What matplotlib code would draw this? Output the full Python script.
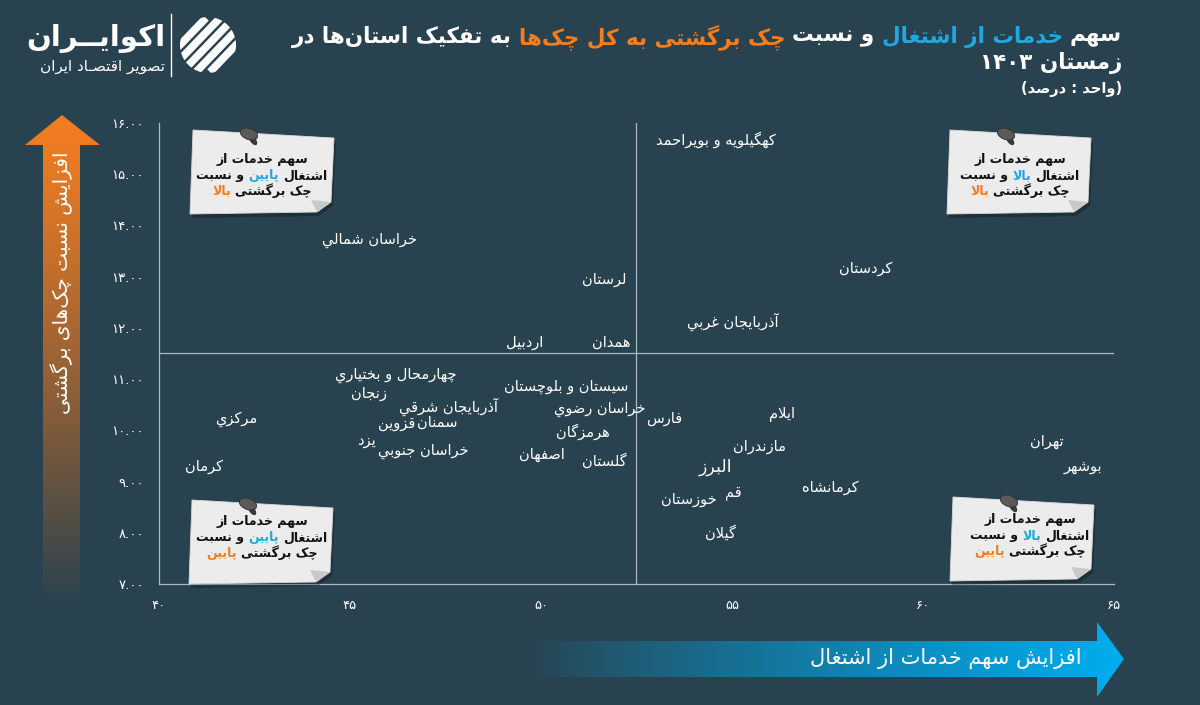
import numpy as np
import matplotlib
matplotlib.use('Agg')
import matplotlib.pyplot as plt
from matplotlib.patches import Polygon, Ellipse, Circle
from matplotlib.colors import to_rgb

# ---------------- data ----------------
provinces = ['خراسان شمالي', 'لرستان', 'اردبیل', 'همدان', 'کهگیلویه و بویراحمد',
             'کردستان', 'آذربایجان غربي', 'چهارمحال و بختیاري', 'زنجان',
             'آذربایجان شرقي', 'سمنان', 'قزوین', 'یزد', 'خراسان جنوبي',
             'سیستان و بلوچستان', 'خراسان رضوي', 'هرمزگان', 'اصفهان', 'گلستان',
             'مرکزي', 'کرمان', 'فارس', 'ایلام', 'مازندران', 'البرز', 'قم',
             'خوزستان', 'کرمانشاه', 'گیلان', 'تهران', 'بوشهر']
service_share = [45.52, 51.65, 49.58, 51.83, 54.58, 58.51, 55.03, 46.20, 45.50,
                 47.59, 47.28, 46.23, 45.42, 46.91, 50.65, 51.54, 51.10, 50.03,
                 51.65, 42.02, 41.18, 53.22, 56.31, 55.71, 54.58, 55.03, 53.87,
                 57.57, 54.69, 63.25, 64.19]
bounced_ratio = [13.70, 12.94, 11.71, 11.71, 15.67, 13.15, 12.12, 11.08, 10.71,
                 10.46, 10.16, 10.13, 9.81, 9.58, 10.85, 10.40, 9.97, 9.52,
                 9.40, 10.22, 9.30, 10.24, 10.30, 9.68, 9.29, 8.78, 8.64,
                 8.88, 8.00, 9.79, 9.30]
x_ticks = [40, 45, 50, 55, 60, 65]
y_ticks = [7, 8, 9, 10, 11, 12, 13, 14, 15, 16]
x_split = 52.5
y_split = 11.5

title_segments = [('سهم', 'w'), ('خدمات از اشتغال', 'b'), ('و نسبت', 'w'),
                  ('چک برگشتی به کل چک‌ها', 'o'), ('به تفکیک استان‌ها در', 'w')]
title_line2 = 'زمستان ۱۴۰۳'
title_line3 = '(واحد : درصد)'
y_arrow_text = 'افزایش نسبت چک‌های برگشتی'
x_arrow_text = 'افزایش سهم خدمات از اشتغال'
notes_x = ['پایین', 'بالا', 'پایین', 'بالا']
notes_y = ['بالا', 'بالا', 'پایین', 'پایین']

# ---------------- arabic shaping ----------------
_F = {
    'ء': ('\uFE80', None, None, None),
    'آ': ('\uFE81', '\uFE82', None, None),
    'أ': ('\uFE83', '\uFE84', None, None),
    'ؤ': ('\uFE85', '\uFE86', None, None),
    'إ': ('\uFE87', '\uFE88', None, None),
    'ئ': ('\uFE89', '\uFE8A', '\uFE8B', '\uFE8C'),
    'ا': ('\uFE8D', '\uFE8E', None, None),
    'ب': ('\uFE8F', '\uFE90', '\uFE91', '\uFE92'),
    'ة': ('\uFE93', '\uFE94', None, None),
    'ت': ('\uFE95', '\uFE96', '\uFE97', '\uFE98'),
    'ث': ('\uFE99', '\uFE9A', '\uFE9B', '\uFE9C'),
    'ج': ('\uFE9D', '\uFE9E', '\uFE9F', '\uFEA0'),
    'ح': ('\uFEA1', '\uFEA2', '\uFEA3', '\uFEA4'),
    'خ': ('\uFEA5', '\uFEA6', '\uFEA7', '\uFEA8'),
    'د': ('\uFEA9', '\uFEAA', None, None),
    'ذ': ('\uFEAB', '\uFEAC', None, None),
    'ر': ('\uFEAD', '\uFEAE', None, None),
    'ز': ('\uFEAF', '\uFEB0', None, None),
    'س': ('\uFEB1', '\uFEB2', '\uFEB3', '\uFEB4'),
    'ش': ('\uFEB5', '\uFEB6', '\uFEB7', '\uFEB8'),
    'ص': ('\uFEB9', '\uFEBA', '\uFEBB', '\uFEBC'),
    'ض': ('\uFEBD', '\uFEBE', '\uFEBF', '\uFEC0'),
    'ط': ('\uFEC1', '\uFEC2', '\uFEC3', '\uFEC4'),
    'ظ': ('\uFEC5', '\uFEC6', '\uFEC7', '\uFEC8'),
    'ع': ('\uFEC9', '\uFECA', '\uFECB', '\uFECC'),
    'غ': ('\uFECD', '\uFECE', '\uFECF', '\uFED0'),
    'ف': ('\uFED1', '\uFED2', '\uFED3', '\uFED4'),
    'ق': ('\uFED5', '\uFED6', '\uFED7', '\uFED8'),
    'ك': ('\uFED9', '\uFEDA', '\uFEDB', '\uFEDC'),
    'ل': ('\uFEDD', '\uFEDE', '\uFEDF', '\uFEE0'),
    'م': ('\uFEE1', '\uFEE2', '\uFEE3', '\uFEE4'),
    'ن': ('\uFEE5', '\uFEE6', '\uFEE7', '\uFEE8'),
    'ه': ('\uFEE9', '\uFEEA', '\uFEEB', '\uFEEC'),
    'و': ('\uFEED', '\uFEEE', None, None),
    'ى': ('\uFEEF', '\uFEF0', None, None),
    'ي': ('\uFEF1', '\uFEF2', '\uFEF3', '\uFEF4'),
    'پ': ('\uFB56', '\uFB57', '\uFB58', '\uFB59'),
    'چ': ('\uFB7A', '\uFB7B', '\uFB7C', '\uFB7D'),
    'ژ': ('\uFB8A', '\uFB8B', None, None),
    'ک': ('\uFB8E', '\uFB8F', '\uFB90', '\uFB91'),
    'گ': ('\uFB92', '\uFB93', '\uFB94', '\uFB95'),
    'ی': ('\uFBFC', '\uFBFD', '\uFBFE', '\uFBFF'),
    'ـ': ('\u0640', '\u0640', '\u0640', '\u0640'),
}
_LA = {'ا': ('\uFEFB', '\uFEFC'), 'آ': ('\uFEF5', '\uFEF6'),
       'أ': ('\uFEF7', '\uFEF8'), 'إ': ('\uFEF9', '\uFEFA')}
_DIG = set('0123456789۰۱۲۳۴۵۶۷۸۹')


def _shape(s):
    units = []
    i = 0
    while i < len(s):
        c = s[i]
        if c == 'ل' and i + 1 < len(s) and s[i + 1] in _LA:
            units.append(('LA', s[i + 1]))
            i += 2
        else:
            units.append(('C', c))
            i += 1

    def joins_next(u):
        if u[0] == 'LA':
            return False
        f = _F.get(u[1])
        return f is not None and f[2] is not None

    def joinable(u):
        return u[0] == 'LA' or u[1] in _F

    out = []
    for k, u in enumerate(units):
        prev = units[k - 1] if k > 0 else None
        nxt = units[k + 1] if k + 1 < len(units) else None
        jp = prev is not None and joins_next(prev) and joinable(u)
        if u[0] == 'LA':
            out.append(_LA[u[1]][1 if jp else 0])
            continue
        c = u[1]
        if c not in _F:
            if c != '\u200c':
                out.append(c)
            continue
        f = _F[c]
        jn = nxt is not None and joinable(nxt) and f[2] is not None
        if jp and jn:
            g = f[3]
        elif jp:
            g = f[1]
        elif jn:
            g = f[2]
        else:
            g = f[0]
        out.append(g)
    return out


def fa(s):
    g = _shape(s)[::-1]
    res = []
    i = 0
    while i < len(g):
        if g[i] in _DIG:
            j = i
            while j < len(g) and (g[j] in _DIG or (g[j] in '.٫' and j + 1 < len(g) and g[j + 1] in _DIG)):
                j += 1
            res.extend(g[i:j][::-1])
            i = j
        else:
            res.append({'(': ')', ')': '('}.get(g[i], g[i]))
            i += 1
    return ''.join(res)


PD = str.maketrans('0123456789', '۰۱۲۳۴۵۶۷۸۹')

# ---------------- style ----------------
FONT = 'DejaVu Sans'
BG = '#29424f'
LINE = '#a7bac4'
BLUE = '#1fa9e1'
ORANGE = '#f47d20'
COL = {'w': 'white', 'b': BLUE, 'o': ORANGE}

plt.rcParams['font.family'] = [FONT]
fig = plt.figure(figsize=(12, 7.05), dpi=100, facecolor=BG)
W, H = 1200, 705

# data axes
ax = fig.add_axes([159 / W, (H - 584) / H, (1114 - 159) / W, (584 - 123) / H])
ax.set_facecolor('none')
ax.set_xlim(40, 65)
ax.set_ylim(7, 16)
for s in ['top', 'right']:
    ax.spines[s].set_visible(False)
for s in ['left', 'bottom']:
    ax.spines[s].set_color(LINE)
    ax.spines[s].set_linewidth(0.9)
ax.set_xticks(x_ticks)
ax.set_xticklabels([str(v).translate(PD) for v in x_ticks])
ax.set_yticks(y_ticks)
ax.set_yticklabels([f'{v:.2f}'.translate(PD) for v in y_ticks])
ax.tick_params(length=0, colors='white', labelsize=9.5, pad=11)
ax.axvline(x_split, color=LINE, lw=0.9)
ax.axhline(y_split, color=LINE, lw=0.9)

for name, xv, yv in zip(provinces, service_share, bounced_ratio):
    size = 12.5 if name == 'البرز' else 10.5
    ax.text(xv, yv, fa(name), ha='center', va='center', color='white',
            fontsize=size, family=FONT)

# overlay axes in pixel coords
ov = fig.add_axes([0, 0, 1, 1])
ov.set_zorder(5)
ov.set_facecolor('none')
ov.axis('off')
renderer = fig.canvas.get_renderer()


def set_lims():
    ov.set_xlim(0, W)
    ov.set_ylim(H, 0)


set_lims()


def rich_line(x, y, segs, size, weight='bold', align='center', color_map=COL):
    texts, widths = [], []
    for txt, col in segs:
        t = ov.text(0, y, fa(txt), color=color_map.get(col, col), fontsize=size,
                    fontweight=weight, ha='right', va='center', family=FONT)
        widths.append(t.get_window_extent(renderer=renderer).width)
        texts.append(t)
    gap = 0.33 * size * 100 / 72
    total = sum(widths) + gap * (len(segs) - 1)
    if align == 'center':
        xr = x + total / 2
    elif align == 'right':
        xr = x
    else:
        xr = x + total
    for t, w in zip(texts, widths):
        t.set_x(xr)
        xr -= w + gap
    return total


def grad_poly(verts, c0, c1, extent, direction, gamma=1.0):
    poly = Polygon(verts, closed=True, facecolor='none', edgecolor='none')
    ov.add_patch(poly)
    t = np.linspace(0, 1, 256) ** gamma
    a, b = np.array(to_rgb(c0)), np.array(to_rgb(c1))
    cols = a[None, :] * (1 - t)[:, None] + b[None, :] * t[:, None]
    img = cols[:, None, :] if direction == 'v' else cols[None, :, :]
    im = ov.imshow(img, extent=extent, origin='upper', aspect='auto',
                   interpolation='bilinear', zorder=1)
    im.set_clip_path(poly)


# y arrow
grad_poly([(62, 115), (100, 145), (80, 145), (80, 605), (43, 605), (43, 145), (25, 145)],
          ORANGE, BG, (25, 100, 605, 115), 'v', gamma=1.2)
ov.text(62, 283, fa(y_arrow_text), rotation=90, ha='center', va='center',
        color='white', fontsize=14.5, family=FONT, zorder=3)

# x arrow
grad_poly([(530, 641), (1097, 641), (1097, 622), (1124, 659), (1097, 697), (1097, 677), (530, 677)],
          BG, '#00adef', (530, 1124, 697, 622), 'h', gamma=0.8)
ov.text(1082, 658, fa(x_arrow_text), ha='right', va='center',
        color='white', fontsize=15, family=FONT, zorder=3)
set_lims()

# title
rich_line(1122, 37, title_segments, 15.5, align='right')
ov.text(1122, 63, fa(title_line2), ha='right', va='center', color='white',
        fontsize=15.5, fontweight='bold', family=FONT)
ov.text(1122, 89, fa(title_line3), ha='right', va='center', color='white',
        fontsize=10.5, fontweight='bold', family=FONT)

# logo
ov.text(165, 38, fa('اکوایــران'), ha='right', va='center', color='white',
        fontsize=21, fontweight='bold', family=FONT)
ov.text(165, 66, fa('تصویر اقتصـاد ایران'), ha='right', va='center', color='white',
        fontsize=11, family=FONT)
ov.plot([171, 171], [14, 76], color='white', lw=1)
clip = Circle((208, 45), 28, facecolor='none', edgecolor='none')
ov.add_patch(clip)
for k in range(5):
    off = -28 + k * 14
    ln, = ov.plot([182 + off, 234 + off], [72, 18], color='white', lw=5.5,
                  solid_capstyle='butt')
    ln.set_clip_path(clip)

# sticky notes
note_specs = [
    ((193, 130), 262, 160),
    ((950, 130), 1020, 160),
    ((192, 500), 262, 522),
    ((953, 497), 1030, 520),
]
for (nx, ny), cx, ly, xw, yw in [(s[0], s[1], s[2], a, b) for s, a, b in zip(note_specs, notes_x, notes_y)]:
    pts = [(nx, ny), (nx + 141, ny + 8), (nx + 138, ny + 72), (nx + 124, ny + 82),
           (nx - 3, ny + 84)]
    shadow = Polygon([(x + 2, y + 4) for x, y in pts], closed=True,
                     facecolor='black', alpha=0.25, edgecolor='none', zorder=6)
    ov.add_patch(shadow)
    ov.add_patch(Polygon(pts, closed=True, facecolor='#ececec', edgecolor='#d8d8d8',
                         lw=0.6, zorder=7))
    ov.add_patch(Polygon([(nx + 138, ny + 72), (nx + 124, ny + 82), (nx + 118, ny + 70)],
                         closed=True, facecolor='#c9c9c9', edgecolor='none', zorder=8))
    px, py = nx + 56, ny + 4
    ov.add_patch(Ellipse((px + 4, py + 6), 6, 12, angle=-35, facecolor='#3a3a3a', zorder=9))
    ov.add_patch(Ellipse((px, py), 18, 11, angle=20, facecolor='#5a5a5a',
                         edgecolor='#2e2e2e', lw=0.6, zorder=9))
    rich_line(cx, ly, [('سهم خدمات از', '#111111')], 9)
    rich_line(cx, ly + 16, [('اشتغال', '#111111'), (xw, BLUE), ('و نسبت', '#111111')], 9)
    rich_line(cx, ly + 31, [('چک برگشتی', '#111111'), (yw, ORANGE)], 9)

for t in ov.texts:
    t.set_zorder(10)
set_lims()

fig.savefig('out.png', dpi=100, facecolor=BG)
